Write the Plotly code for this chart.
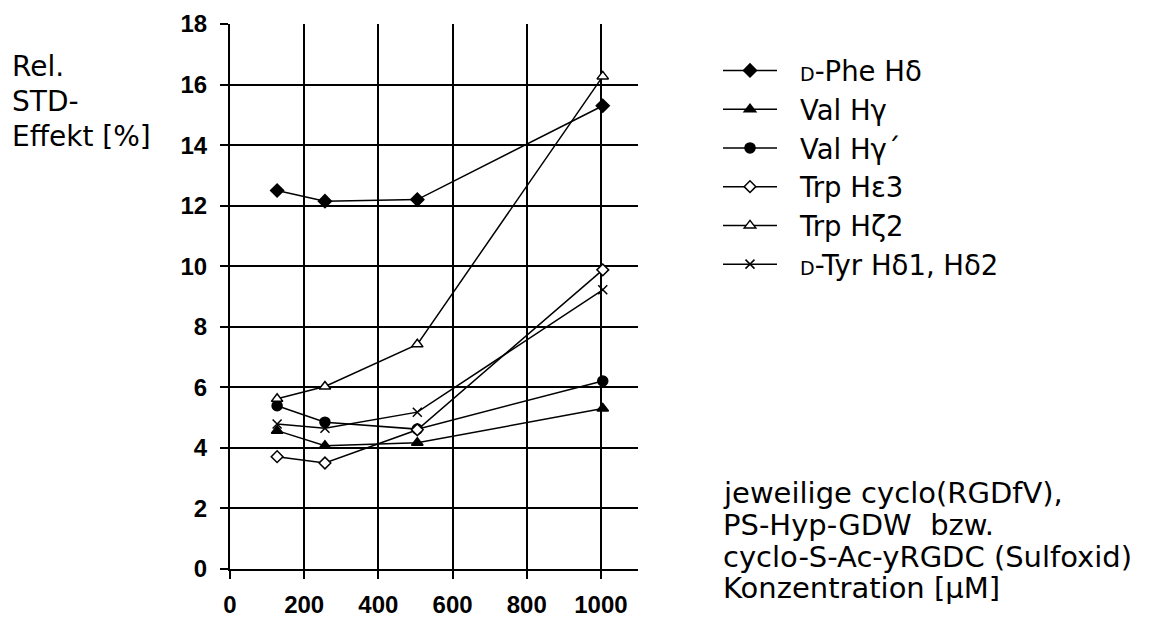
import plotly.graph_objects as go

# ---- data ----
konz = [127, 256, 505, 1005]
d_phe = [12.5, 12.15, 12.2, 15.3]
val_hg = [4.57, 4.07, 4.17, 5.3]
val_hg2 = [5.39, 4.85, 4.62, 6.21]
trp_he3 = [3.71, 3.5, 4.6, 9.88]
trp_hz2 = [5.62, 6.03, 7.42, 16.27]
d_tyr = [4.79, 4.65, 5.18, 9.22]

y_ticks = [0, 2, 4, 6, 8, 10, 12, 14, 16, 18]
x_ticks = [0, 200, 400, 600, 800, 1000]

SC = '<span style="font-size:19px">D</span>'
GAP = '<span style="font-size:18px">\u2003</span>'
names = [
    GAP + SC + "-Phe H\u03b4",
    GAP + "Val H\u03b3",
    GAP + "Val H\u03b3\u00b4",
    GAP + "Trp H\u03b53",
    GAP + "Trp H\u03b62",
    GAP + SC + "-Tyr H\u03b41, H\u03b42",
]
series = [d_phe, val_hg, val_hg2, trp_he3, trp_hz2, d_tyr]
symbols = ["diamond", "triangle-up", "circle", "diamond", "triangle-up", "x-thin"]
fills = ["black", "black", "black", "white", "white", "black"]
sizes = [10, 10, 10, 9, 10, 9]

W, H = 1149, 622
L, R, T, B = 230, 638, 24, 569

fig = go.Figure()
for nm, ys, sym, fc, sz in zip(names, series, symbols, fills, sizes):
    fig.add_trace(go.Scatter(
        x=konz, y=ys, name=nm, mode="lines+markers",
        line=dict(color="black", width=1.5),
        marker=dict(symbol=sym, size=sz, color=fc,
                    line=dict(color="black", width=1.5)),
    ))

def px_x(p):
    return (p - L) / (R - L)

def px_y(p):
    return (B - p) / (B - T)

FONT = "DejaVu Sans"
annos = []
for txt, yc in [("Rel.", 67), ("STD-", 101.5), ("Effekt [%]", 136)]:
    annos.append(dict(text=txt, x=px_x(10), y=px_y(yc), xref="paper", yref="paper",
                      xanchor="left", yanchor="middle", showarrow=False,
                      font=dict(family=FONT, size=28, color="black")))
for txt, yc in [("jeweilige cyclo(RGDfV),", 493), ("PS-Hyp-GDW  bzw.", 525),
                ("cyclo-S-Ac-yRGDC (Sulfoxid)", 557), ("Konzentration [\u03bcM]", 588)]:
    annos.append(dict(text=txt, x=px_x(721), y=px_y(yc), xref="paper", yref="paper",
                      xanchor="left", yanchor="middle", showarrow=False,
                      font=dict(family=FONT, size=29, color="black")))

axis_common = dict(
    showgrid=True, gridcolor="black", gridwidth=2,
    showline=True, linecolor="black", linewidth=2,
    zeroline=False, ticks="outside", ticklen=8, tickcolor="black", tickwidth=2,
    automargin=False,
    tickfont=dict(family="Liberation Sans", size=24, color="black", weight="bold"),
)

fig.update_layout(
    width=W, height=H,
    margin=dict(l=L, r=W - R, t=T, b=H - B, pad=0, autoexpand=False),
    paper_bgcolor="white", plot_bgcolor="white",
    xaxis=dict(range=[0, 1100], tickvals=x_ticks, ticklabelstandoff=5, **axis_common),
    yaxis=dict(range=[0, 18], tickvals=y_ticks, ticklabelstandoff=8, **axis_common),
    showlegend=True,
    legend=dict(x=px_x(718), y=px_y(46), xanchor="left", yanchor="top",
                font=dict(family=FONT, size=27.5, color="black"),
                bgcolor="rgba(0,0,0,0)", borderwidth=0, itemwidth=54,
                tracegroupgap=0),
    annotations=annos,
)

fig.write_html("out.html", config={"displayModeBar": False},
               post_script="document.body.style.margin='0';")
